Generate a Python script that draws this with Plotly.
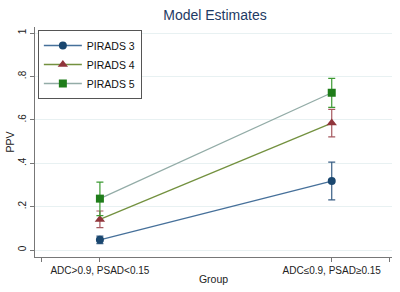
import plotly.graph_objects as go

groups = [1, 2]
group_labels = ["ADC>0.9, PSAD<0.15", "ADC≤0.9, PSAD≥0.15"]
series = ["PIRADS 3", "PIRADS 4", "PIRADS 5"]
est = {
    "PIRADS 3": [0.047, 0.318],
    "PIRADS 4": [0.141, 0.585],
    "PIRADS 5": [0.237, 0.725],
}
lo = {
    "PIRADS 3": [0.030, 0.231],
    "PIRADS 4": [0.103, 0.522],
    "PIRADS 5": [0.159, 0.658],
}
hi = {
    "PIRADS 3": [0.064, 0.405],
    "PIRADS 4": [0.180, 0.648],
    "PIRADS 5": [0.313, 0.791],
}
yticks = [0, 0.2, 0.4, 0.6, 0.8, 1]
ytick_text = ["0", ".2", ".4", ".6", ".8", "1"]

line_colors = {"PIRADS 3": "#46709a", "PIRADS 4": "#73913f", "PIRADS 5": "#93aca7"}
marker_colors = {"PIRADS 3": "#1a476f", "PIRADS 4": "#90353b", "PIRADS 5": "#1f7d1a"}
err_colors = {"PIRADS 3": "#3a5f85", "PIRADS 4": "#a65a60", "PIRADS 5": "#3d9a33"}
symbols = {"PIRADS 3": "circle", "PIRADS 4": "triangle-up", "PIRADS 5": "square"}
sizes = {"PIRADS 3": 8, "PIRADS 4": 9, "PIRADS 5": 8}

fig = go.Figure()
for s in series:
    e = est[s]
    fig.add_trace(go.Scatter(
        x=groups, y=e, name=s, mode="lines+markers",
        line=dict(color=line_colors[s], width=1.3),
        marker=dict(color=marker_colors[s], symbol=symbols[s], size=sizes[s]),
        error_y=dict(type="data", symmetric=False,
                     array=[h - v for h, v in zip(hi[s], e)],
                     arrayminus=[v - l for v, l in zip(e, lo[s])],
                     color=err_colors[s], thickness=1.2, width=3.5),
    ))

font = "Liberation Sans, Arial, sans-serif"
fig.update_layout(
    width=400, height=292,
    margin=dict(l=35, r=8, t=27, b=35),
    paper_bgcolor="white", plot_bgcolor="white",
    font=dict(family=font, size=10, color="#222"),
    title=dict(text="Model Estimates", x=0.5375, xanchor="center", y=0.949, yanchor="middle",
               font=dict(size=14, color="#1e3a64", family=font)),
    legend=dict(x=0.008, y=0.987, xanchor="left", yanchor="top",
                bordercolor="#555", borderwidth=1, bgcolor="white",
                font=dict(size=10.5, color="#111"), tracegroupgap=0, itemwidth=38),
    xaxis=dict(range=[0.72, 2.26], tickmode="array", tickvals=[0.75, 1, 2, 2.25],
               ticktext=["", group_labels[0], group_labels[1], ""], automargin=False,
               showgrid=False, zeroline=False, showline=True, linecolor="#777", linewidth=1,
               ticks="outside", ticklen=4, tickcolor="#777",
               title=dict(text="Group", standoff=0, font=dict(size=10.5))),
    yaxis=dict(range=[-0.032, 1.028], tickmode="array", tickvals=yticks, ticktext=ytick_text,
               tickangle=-90, showgrid=True, gridcolor="#e8f1f2", gridwidth=1, automargin=False,
               zeroline=False, showline=True, linecolor="#777", linewidth=1,
               ticks="outside", ticklen=4, tickcolor="#777",
               title=dict(text="PPV", standoff=0, font=dict(size=10.5))),
)
fig.write_html("out.html", config={"displayModeBar": False},
               post_script="document.body.style.margin='0';document.body.style.overflow='hidden';")
